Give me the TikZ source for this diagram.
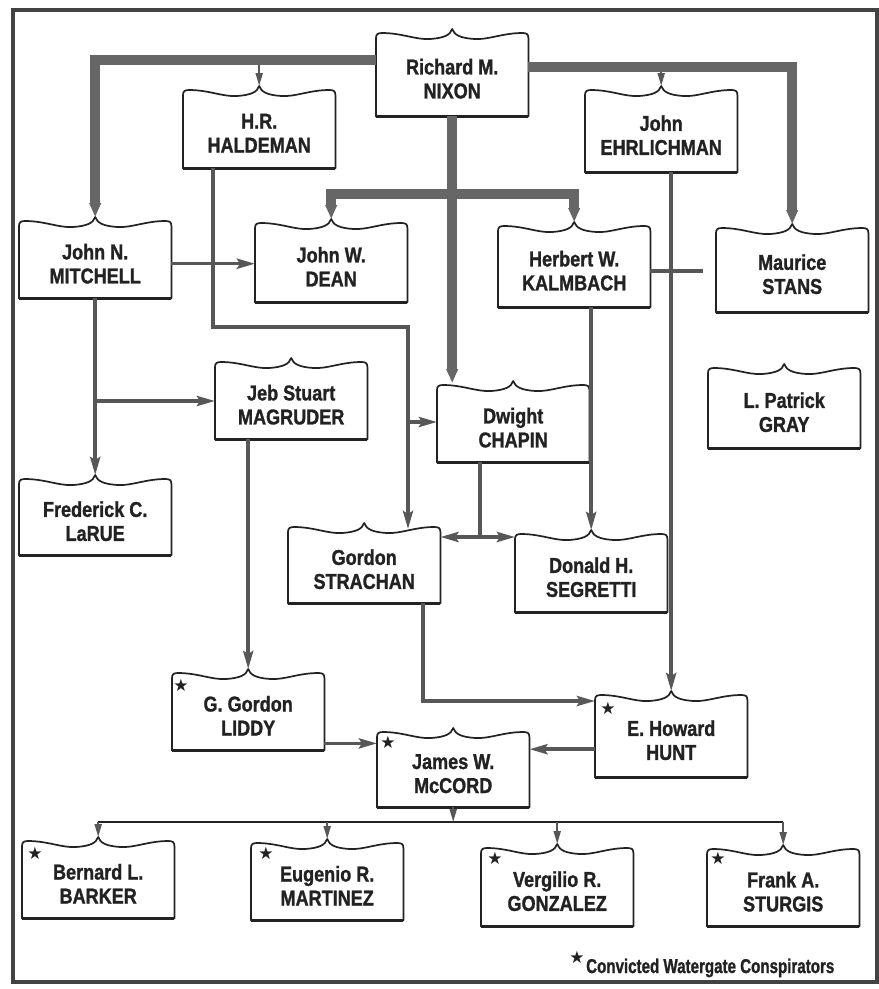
\documentclass[tikz,border=0pt]{standalone}
\usepackage{fontspec}
\usepackage{graphicx}
\newfontfamily\namefont{Liberation Sans}[FakeStretch=0.84,BoldFeatures={FakeBold=1.2}]
\newfontfamily\symfont{DejaVu Sans}
\usetikzlibrary{arrows.meta,calc}
\definecolor{ink}{HTML}{222222}
\definecolor{barc}{HTML}{666666}
\definecolor{wire}{HTML}{575757}
\tikzset{
  bb/.style={rectangle, draw=none, minimum width=152pt, minimum height=#1, inner sep=0pt,
    anchor=north west, align=center, text=ink,
    font=\namefont\bfseries\fontsize{21.5}{24}\selectfont},
  boxline/.style={draw=ink, line width=1.7pt, line join=round},
  heavy/.style={draw=barc, line width=10pt, line join=miter},
  htip/.style={-{Triangle[length=14pt,width=11pt]}},
  hboth/.style={{Triangle[length=14pt,width=11pt]}-{Triangle[length=14pt,width=11pt]}},
  wirel/.style={draw=wire, line width=3.5pt},
  wtip/.style={-{Stealth[length=18pt,width=10pt,inset=3pt]}},
  wboth/.style={{Stealth[length=18pt,width=10pt,inset=3pt]}-{Stealth[length=18pt,width=10pt,inset=3pt]}},
  pointer/.style={draw=wire, fill=wire, line width=2pt, -{Triangle[length=13pt,width=7pt]}},
  busl/.style={draw=ink, line width=2pt},
  starmark/.style={inner sep=0pt, text=ink, font=\symfont\fontsize{17}{17}\selectfont},
  framel/.style={draw=ink!85, line width=3.2pt}
}
\newcommand\bracebox[1]{%
  \draw[boxline] (#1.south west) -- ($(#1.north west)+(0,-3)$)
    .. controls ($(#1.north west)+(0,-7)$) and ($(#1.north west)+(2,-8)$) .. ($(#1.north west)+(6,-8)$)
    .. controls ($(#1.north west)+(26,-8)$) and ($(#1.north west)+(40,-1)$) .. ($(#1.north)+(-22,-2)$)
    .. controls ($(#1.north)+(-8,-3)$) and ($(#1.north)+(-2,-6)$) .. ($(#1.north)+(0,-12)$)
    .. controls ($(#1.north)+(2,-6)$) and ($(#1.north)+(8,-3)$) .. ($(#1.north)+(22,-2)$)
    .. controls ($(#1.north east)+(-40,-1)$) and ($(#1.north east)+(-26,-8)$) .. ($(#1.north east)+(-6,-8)$)
    .. controls ($(#1.north east)+(-2,-8)$) and ($(#1.north east)+(0,-7)$) .. ($(#1.north east)+(0,-3)$)
    -- (#1.south east) -- cycle;
  \draw[draw=ink, line width=3pt] (#1.south west) -- (#1.south east);
  \coordinate (#1-top) at ($(#1.north)+(0,-12)$);
}
\begin{document}
\begin{tikzpicture}[x=1pt,y=-1pt]
\fill[white] (0,0) rectangle (879,989);
\useasboundingbox (0,0) rectangle (879,989);
\draw[framel] (13,10) rectangle (877,982);

% nodes
\node[bb=75pt] (nixon) at (376,41) {Richard M.\\NIXON};
\node[bb=70pt] (haldeman) at (183,98) {H.R.\\HALDEMAN};
\node[bb=74pt] (ehrlichman) at (585,98) {John\\EHRLICHMAN};
\node[bb=69pt] (mitchell) at (19,229) {John N.\\MITCHELL};
\node[bb=71pt] (dean) at (255,231) {John W.\\DEAN};
\node[bb=73pt] (kalmbach) at (498,234) {Herbert W.\\KALMBACH};
\node[bb=76pt] (stans) at (716,236) {Maurice\\STANS};
\node[bb=68pt] (larue) at (19,487) {Frederick C.\\LaRUE};
\node[bb=69pt] (magruder) at (215,370) {Jeb Stuart\\MAGRUDER};
\node[bb=69pt] (chapin) at (437,393) {Dwight\\CHAPIN};
\node[bb=72pt] (gray) at (708,376) {L. Patrick\\GRAY};
\node[bb=68pt] (strachan) at (288,535) {Gordon\\STRACHAN};
\node[bb=70pt] (segretti) at (515,542) {Donald H.\\SEGRETTI};
\node[bb=69pt] (liddy) at (172,681) {G. Gordon\\LIDDY};
\node[bb=67pt] (mccord) at (377,740) {James W.\\McCORD};
\node[bb=74pt] (hunt) at (595,703) {E. Howard\\HUNT};
\node[bb=69pt] (barker) at (22,849) {Bernard L.\\BARKER};
\node[bb=69pt] (martinez) at (251,851) {Eugenio R.\\MARTINEZ};
\node[bb=70pt] (gonzalez) at (481,856) {Vergilio R.\\GONZALEZ};
\node[bb=69pt] (sturgis) at (707,857) {Frank A.\\STURGIS};

\foreach \n in {nixon,haldeman,ehrlichman,mitchell,dean,kalmbach,stans,larue,magruder,chapin,gray,strachan,segretti,liddy,mccord,hunt,barker,martinez,gonzalez,sturgis}{\bracebox{\n}}

% stars
\node[starmark] (s-liddy) at ($(liddy.north west)+(9,4)$) {★};
\node[starmark] (s-mccord) at ($(mccord.north west)+(11,2)$) {★};
\node[starmark] (s-hunt) at ($(hunt.north west)+(13,5)$) {★};
\node[starmark] (s-barker) at ($(barker.north west)+(13,4)$) {★};
\node[starmark] (s-martinez) at ($(martinez.north west)+(15,2)$) {★};
\node[starmark] (s-gonzalez) at ($(gonzalez.north west)+(14,2)$) {★};
\node[starmark] (s-sturgis) at ($(sturgis.north west)+(11,1)$) {★};

% helper coordinates
\coordinate (nL) at (0,60);
\coordinate (nR) at (0,67);
\coordinate (dk) at (452,194);
\coordinate (chin) at ($(chapin.north west)+(13,-10)$);

% pointers under the heavy bars
\draw[pointer] (haldeman-top |- nL) -- (haldeman-top);
\draw[pointer] (ehrlichman-top |- nR) -- (ehrlichman-top);

% heavy bars from Nixon
\draw[heavy,htip] (nixon.west |- nL) -| (mitchell-top);
\draw[heavy,htip] (nixon.east |- nR) -| (stans-top);
\draw[heavy,htip] (nixon.south) -- (nixon.south |- chin);
\draw[heavy,hboth] (dean-top) |- (dk) -| (kalmbach-top);

% thin connectors
\coordinate (hd) at ($(haldeman.south west)+(30,0)$);
\coordinate (j1) at (408,327);
\coordinate (j2) at (408,422);
\coordinate (strin) at ($(strachan.north west)+(120,-6)$);
\draw[wirel,wtip] (hd) |- (j1) -- (j1 |- strin);
\draw[wirel,wtip] (j2) -- (j2 -| chapin.west);

\draw[wirel,wtip] (mitchell.east) -- (mitchell.east -| dean.west);
\draw[wirel,wtip] (mitchell.south) -- (larue-top);
\coordinate (j3) at (95,401);
\draw[wirel,wtip] (j3) -- (j3 -| magruder.west);
\draw[wirel,wtip] (liddy-top |- magruder.south) -- (liddy-top);
\draw[wirel,wtip] (hunt-top |- ehrlichman.south) -- (hunt-top);
\coordinate (ks) at (703,271);
\draw[wirel] (kalmbach.east |- ks) -- (ks);
\draw[wirel,wtip] (segretti-top |- kalmbach.south) -- (segretti-top);
\coordinate (j4) at (480,537);
\draw[wirel] (j4 |- chapin.south) -- (j4);
\draw[wirel,wboth] (strachan.east |- j4) -- (segretti.west |- j4);
\coordinate (hin) at ($(hunt.north west)+(0,-2)$);
\draw[wirel,wtip] ($(strachan.south west)+(135,0)$) |- (hin);
\coordinate (lm) at ($(liddy.south east)+(0,-7)$);
\draw[wirel,wtip] (lm) -- (lm -| mccord.west);
\coordinate (hm) at ($(hunt.west)+(0,9)$);
\draw[wirel,wtip] (hm) -- (hm -| mccord.east);

% bus to the burglars
\coordinate (bus) at (450,822);
\draw[busl] (barker-top |- bus) -- (sturgis-top |- bus);
\draw[pointer] (mccord.south) -- (mccord.south |- bus);
\foreach \n in {barker,martinez,gonzalez,sturgis}{\draw[pointer] (\n-top |- bus) -- (\n-top);}

% legend
\node[starmark] (legstar) at (577,957) {★};
\node[anchor=base west, inner sep=0pt, text=ink, font=\namefont\bfseries\fontsize{20}{22}\selectfont] (legend) at (586,973) {\scalebox{0.9}[1]{Convicted Watergate Conspirators}};
\end{tikzpicture}
\end{document}
